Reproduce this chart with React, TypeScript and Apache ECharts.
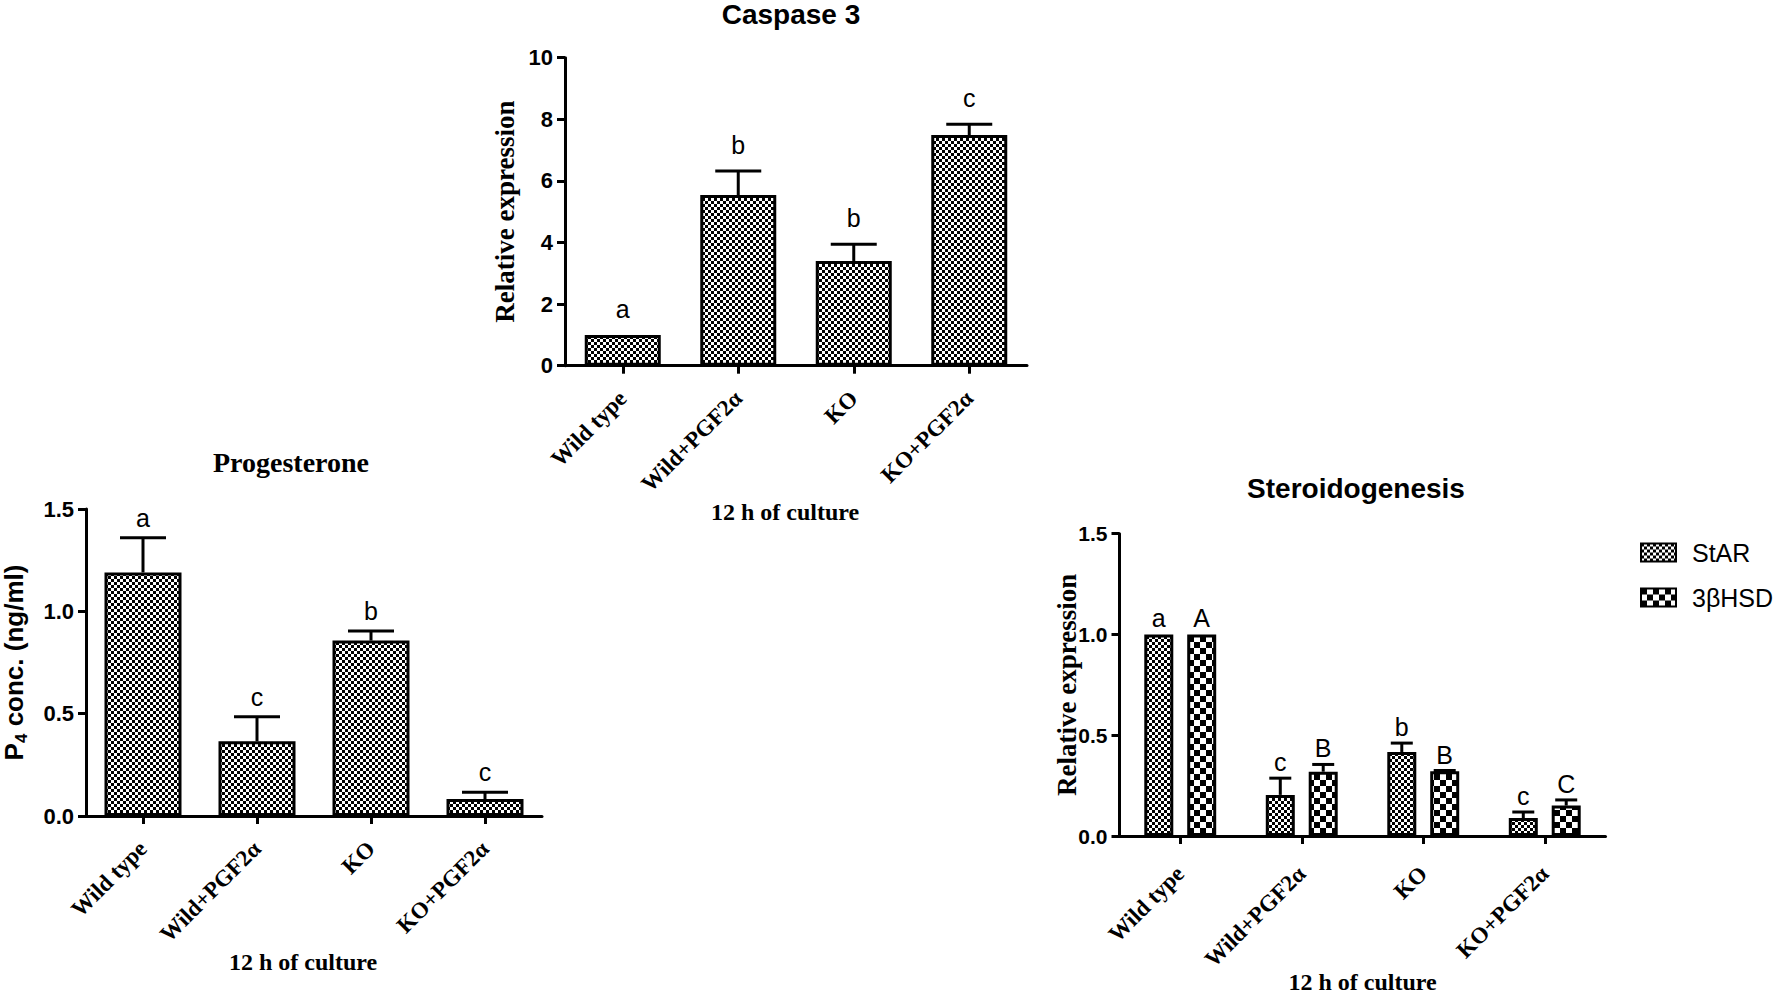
import React, { useEffect, useRef } from 'react';
import * as echarts from 'echarts';

// ---------- data ----------
const categories = ['Wild type', 'Wild+PGF2α', 'KO', 'KO+PGF2α'];

const caspaseMean = [1.0, 5.54, 3.4, 7.49];
const caspaseSem = [0, 0.78, 0.54, 0.35];
const caspaseLetters = ['a', 'b', 'b', 'c'];

const progMean = [1.19, 0.365, 0.857, 0.083];
const progSem = [0.17, 0.12, 0.047, 0.033];
const progLetters = ['a', 'c', 'b', 'c'];

const starMean = [1.0, 0.204, 0.417, 0.089];
const starSem = [0, 0.083, 0.044, 0.03];
const starLetters = ['a', 'c', 'b', 'c'];

const hsdMean = [1.0, 0.319, 0.321, 0.151];
const hsdSem = [0, 0.036, 0.004, 0.028];
const hsdLetters = ['A', 'B', 'B', 'C'];

const caspaseTicks = { min: 0, max: 10, interval: 2 };
const concTicks = { min: 0, max: 1.5, interval: 0.5 };

const SANS = '"Liberation Sans", Arial, sans-serif';
const SERIF = '"Liberation Serif", "Times New Roman", serif';

function makeChecker(cell: number) {
  const c = document.createElement('canvas');
  c.width = cell * 2;
  c.height = cell * 2;
  const ctx = c.getContext('2d')!;
  ctx.fillStyle = '#fff';
  ctx.fillRect(0, 0, cell * 2, cell * 2);
  ctx.fillStyle = '#000';
  ctx.fillRect(0, 0, cell, cell);
  ctx.fillRect(cell, cell, cell, cell);
  return { image: c, repeat: 'repeat', imageWidth: cell * 2, imageHeight: cell * 2 } as any;
}

function errSeries(
  name: string,
  axis: number,
  mean: number[],
  sem: number[],
  letters: string[],
  offset: number,
  capW: number,
  gap: number
) {
  return {
    type: 'custom',
    name,
    xAxisIndex: axis,
    yAxisIndex: axis,
    silent: true,
    z: 10,
    data: mean.map((m, i) => [i, m, m + sem[i]]),
    encode: { x: 0, y: [1, 2] },
    renderItem: (params: any, api: any) => {
      const i = api.value(0);
      const base = api.coord([i, api.value(1)]);
      const top = api.coord([i, api.value(2)]);
      const x = base[0] + offset;
      const children: any[] = [];
      const hasErr = api.value(2) > api.value(1);
      if (hasErr) {
        children.push({
          type: 'line',
          shape: { x1: x, y1: base[1], x2: x, y2: top[1] },
          style: { stroke: '#000', lineWidth: 3 },
        });
        children.push({
          type: 'line',
          shape: { x1: x - capW / 2, y1: top[1], x2: x + capW / 2, y2: top[1] },
          style: { stroke: '#000', lineWidth: 3 },
        });
      }
      const yTop = hasErr ? top[1] - 1.5 : base[1] - 1.5;
      children.push({
        type: 'text',
        style: {
          text: letters[params.dataIndex],
          x,
          y: yTop - gap + 4,
          align: 'center',
          verticalAlign: 'bottom',
          font: `25px ${SANS}`,
          fill: '#000',
        },
      });
      return { type: 'group', children };
    },
  };
}

export default function App() {
  const ref = useRef<HTMLDivElement>(null);

  useEffect(() => {
    if (!ref.current) return;
    const chart = echarts.init(ref.current, null, { renderer: 'svg' });
    const fine = makeChecker(3);
    const coarse = makeChecker(6);

    const xAxisBase = (gridIndex: number, namePadRight: number, margin: number) => ({
      type: 'category',
      gridIndex,
      data: categories,
      axisLine: { show: true, lineStyle: { color: '#000', width: 3 } },
      axisTick: { show: true, alignWithLabel: true, length: 8, lineStyle: { color: '#000', width: 3 } },
      axisLabel: {
        interval: 0,
        rotate: 45,
        margin,
        color: '#000',
        fontFamily: SERIF,
        fontWeight: 'bold',
        fontSize: 23,
      },
      name: '12 h of culture',
      nameLocation: 'middle',
      nameGap: 134,
      nameMoveOverlap: false,
      nameTextStyle: {
        color: '#000',
        fontFamily: SERIF,
        fontWeight: 'bold',
        fontSize: 24,
        padding: [0, namePadRight, 0, 0],
      },
    });

    const yAxisBase = (gridIndex: number, ticks: any, fmt: (v: number) => string, labelSize: number) => ({
      type: 'value',
      gridIndex,
      min: ticks.min,
      max: ticks.max,
      interval: ticks.interval,
      axisLine: { show: true, lineStyle: { color: '#000', width: 3 } },
      axisTick: { show: true, length: 8, lineStyle: { color: '#000', width: 3 } },
      splitLine: { show: false },
      axisLabel: {
        color: '#000',
        fontFamily: SANS,
        fontWeight: 'bold',
        fontSize: labelSize,
        margin: 12,
        formatter: fmt,
      },
      nameLocation: 'middle',
      nameRotate: 90,
    });

    const barStyle = (color: any) => ({ color, borderColor: '#000', borderWidth: 3 });

    const stBarW = 29;
    const stGap = 0.48;
    const stOffset = (stBarW * (1 + stGap)) / 2;

    chart.setOption({
      animation: false,
      backgroundColor: '#fff',
      title: [
        {
          text: 'Caspase 3',
          left: 791,
          top: 0,
          padding: 0,
          textAlign: 'center',
          textStyle: { fontFamily: SANS, fontWeight: 'bold', fontSize: 28, lineHeight: 28, color: '#000' },
        },
        {
          text: 'Progesterone',
          left: 291,
          top: 448,
          padding: 0,
          textAlign: 'center',
          textStyle: { fontFamily: SERIF, fontWeight: 'bold', fontSize: 28, lineHeight: 28, color: '#000' },
        },
        {
          text: 'Steroidogenesis',
          left: 1356,
          top: 474,
          padding: 0,
          textAlign: 'center',
          textStyle: { fontFamily: SANS, fontWeight: 'bold', fontSize: 28, lineHeight: 28, color: '#000' },
        },
      ],
      legend: {
        data: ['StAR', '3βHSD'],
        orient: 'vertical',
        left: 1635,
        top: 535,
        icon: 'rect',
        itemWidth: 35,
        itemHeight: 18,
        itemGap: 20,
        textStyle: { fontFamily: SANS, fontSize: 25, color: '#000', padding: [0, 0, 0, 11] },
      },
      grid: [
        { left: 565, top: 57.7, width: 462, height: 308 },
        { left: 80, top: 509, width: 462, height: 307 },
        { left: 1119.5, top: 533.7, width: 486, height: 307.3 },
      ],
      xAxis: [xAxisBase(0, 22, 29), xAxisBase(1, 22, 29), xAxisBase(2, 0, 34)],
      yAxis: [
        {
          ...yAxisBase(0, caspaseTicks, (v: number) => String(v), 22),
          name: 'Relative expression',
          nameGap: 47,
          nameTextStyle: { color: '#000', fontFamily: SERIF, fontWeight: 'bold', fontSize: 27 },
        },
        {
          ...yAxisBase(1, concTicks, (v: number) => v.toFixed(1), 22),
          name: '{p|P}{s|4}{p| conc. (ng/ml)}',
          nameGap: 56,
          nameTextStyle: {
            color: '#000',
            rich: {
              p: { fontFamily: SANS, fontWeight: 'bold', fontSize: 26, lineHeight: 32, verticalAlign: 'middle' },
              s: { fontFamily: SANS, fontWeight: 'bold', fontSize: 17, lineHeight: 32, verticalAlign: 'bottom' },
            },
          },
        },
        {
          ...yAxisBase(2, concTicks, (v: number) => v.toFixed(1), 21),
          name: 'Relative expression',
          nameGap: 39,
          nameMoveOverlap: false,
          nameTextStyle: { color: '#000', fontFamily: SERIF, fontWeight: 'bold', fontSize: 27 },
        },
      ],
      series: [
        {
          type: 'bar',
          name: 'Caspase 3',
          xAxisIndex: 0,
          yAxisIndex: 0,
          data: caspaseMean,
          barWidth: 76,
          itemStyle: barStyle(fine),
        },
        errSeries('caspaseErr', 0, caspaseMean, caspaseSem, caspaseLetters, 0, 46, 16),
        {
          type: 'bar',
          name: 'Progesterone',
          xAxisIndex: 1,
          yAxisIndex: 1,
          data: progMean,
          barWidth: 77,
          itemStyle: barStyle(fine),
        },
        errSeries('progErr', 1, progMean, progSem, progLetters, 0, 46, 10),
        {
          type: 'bar',
          name: 'StAR',
          xAxisIndex: 2,
          yAxisIndex: 2,
          data: starMean,
          barWidth: stBarW,
          barGap: `${stGap * 100}%`,
          itemStyle: barStyle(fine),
        },
        {
          type: 'bar',
          name: '3βHSD',
          xAxisIndex: 2,
          yAxisIndex: 2,
          data: hsdMean,
          barWidth: stBarW,
          barGap: `${stGap * 100}%`,
          itemStyle: barStyle(coarse),
        },
        errSeries('starErr', 2, starMean, starSem, starLetters, -stOffset, 22, 6),
        errSeries('hsdErr', 2, hsdMean, hsdSem, hsdLetters, stOffset, 22, 6),
      ],
    });

    return () => chart.dispose();
  }, []);

  return (
    <div
      ref={ref}
      style={{ position: 'absolute', left: 0, top: 0, width: 1773, height: 995, background: '#fff' }}
    />
  );
}
